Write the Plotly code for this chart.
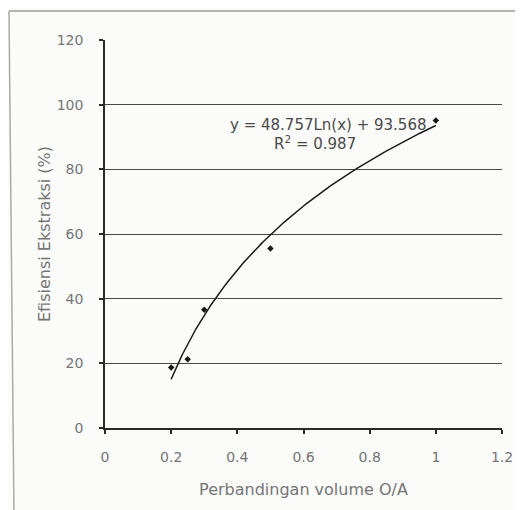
import numpy as np
import plotly.graph_objects as go

# Data
ratio_oa = [0.2, 0.25, 0.3, 0.5, 1.0]
efisiensi = [18.7, 21.3, 36.6, 55.5, 95.1]

# Logarithmic trendline coefficients (as printed on the chart)
coef_a = 48.757
coef_b = 93.568
r_squared = 0.987

x_ticks = [0, 0.2, 0.4, 0.6, 0.8, 1.0, 1.2]
x_tick_text = ["0", "0.2", "0.4", "0.6", "0.8", "1", "1.2"]
y_ticks = [0, 20, 40, 60, 80, 100, 120]
grid_vals = [20, 40, 60, 80, 100]

trend_x = np.linspace(min(ratio_oa), max(ratio_oa), 200)
trend_y = coef_a * np.log(trend_x) + coef_b

# page body has an 8px margin; figure sized to fit the window
W, H = 515, 502
ml, mr, mt, mb = 97, 21, 32, 82
pw, ph = W - ml - mr, H - mt - mb

fig = go.Figure()

fig.add_trace(go.Scatter(
    x=trend_x, y=trend_y, mode="lines",
    line=dict(color="#1a1a1a", width=1.5),
    showlegend=False, hoverinfo="skip"))

fig.add_trace(go.Scatter(
    x=ratio_oa, y=efisiensi, mode="markers",
    marker=dict(symbol="diamond", size=5, color="#1a1a1a"),
    showlegend=False))

# invisible trace on overlay axis to carry gridlines
fig.add_trace(go.Scatter(x=[0], y=[0], yaxis="y2", mode="markers",
                         marker=dict(opacity=0), showlegend=False,
                         hoverinfo="skip"))

font_col = "#757575"
fam = "DejaVu Sans, Arial, sans-serif"
fig.update_layout(
    width=W, height=H,
    margin=dict(l=ml, r=mr, t=mt, b=mb, autoexpand=False),
    paper_bgcolor="#fbfbfa",
    plot_bgcolor="rgba(0,0,0,0)",
    font=dict(family=fam, color=font_col, size=14),
    xaxis=dict(
        range=[0, 1.2], tickvals=x_ticks, ticktext=x_tick_text,
        showgrid=False, zeroline=False, automargin=False,
        showline=True, linecolor="#2a2a2a", linewidth=1.5,
        ticks="outside", ticklen=4, tickwidth=1.5, tickcolor="#2a2a2a",
        ticklabelstandoff=11,
        tickfont=dict(size=14, color=font_col),
        title=dict(text="Perbandingan volume O/A", standoff=20,
                   font=dict(size=16, color=font_col)),
    ),
    yaxis=dict(
        range=[0, 120], tickvals=y_ticks,
        showgrid=False, zeroline=False, automargin=False,
        showline=True, linecolor="#2a2a2a", linewidth=1.5,
        ticks="outside", ticklen=4, tickwidth=1.5, tickcolor="#2a2a2a",
        ticklabelstandoff=13,
        tickfont=dict(size=14, color=font_col),
        title=dict(text="Efisiensi Ekstraksi (%)", standoff=2,
                   font=dict(size=16, color=font_col)),
    ),
    yaxis2=dict(
        range=[0, 120], overlaying="y", tickvals=grid_vals,
        showgrid=True, gridcolor="#4a4a4a", gridwidth=1.3, automargin=False,
        showticklabels=False, ticks="", zeroline=False, showline=False,
    ),
    annotations=[
        dict(x=0.675, y=93.8, xref="x", yref="y",
             text=f"y = {coef_a}Ln(x) + {coef_b}",
             showarrow=False, font=dict(family=fam, size=15, color="#4a4a4a")),
        dict(x=0.634, y=88.2, xref="x", yref="y",
             text=f"R<sup>2</sup> = {r_squared}",
             showarrow=False, font=dict(family=fam, size=15, color="#4a4a4a")),
    ],
    shapes=[
        dict(type="line", xref="paper", yref="paper",
             x0=(1 - ml) / pw, x1=(W + 5 - ml) / pw,
             y0=(H - mb - 3) / ph, y1=(H - mb - 3) / ph,
             line=dict(color="#9a9a9a", width=1.5)),
        dict(type="line", xref="paper", yref="paper",
             x0=(1 - ml) / pw, x1=(6 - ml) / pw,
             y0=(H - mb - 3) / ph, y1=(-mb - 5) / ph,
             line=dict(color="#aaaaaa", width=1.5)),
    ],
)

fig.write_html("out.html")
